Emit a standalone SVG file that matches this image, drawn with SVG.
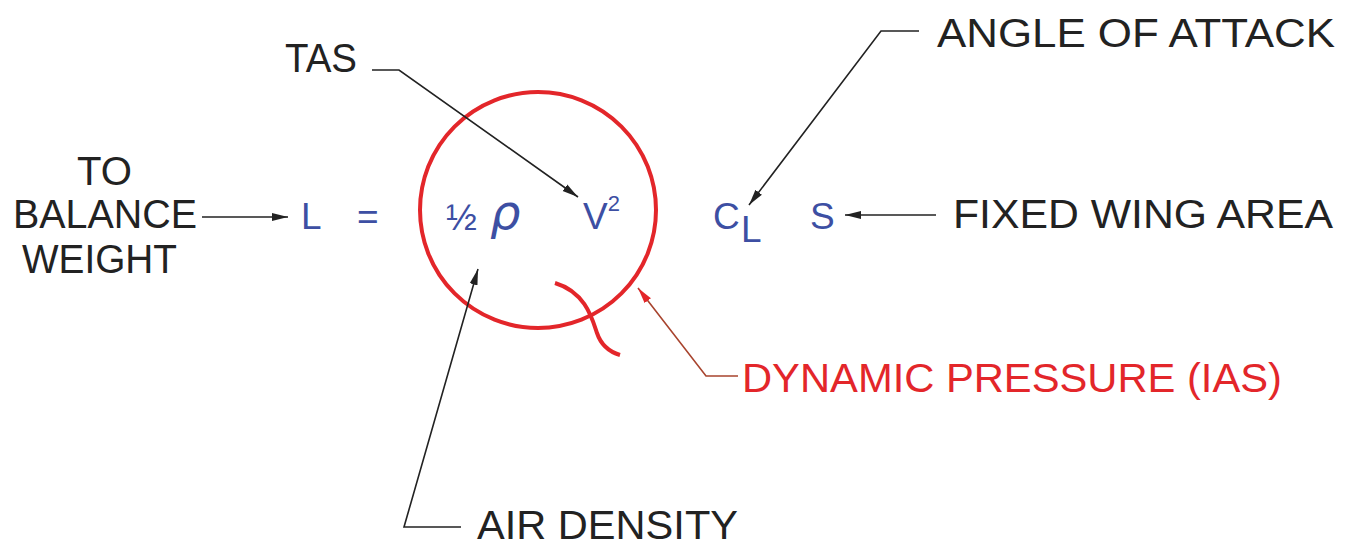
<svg xmlns="http://www.w3.org/2000/svg" width="1354" height="548" viewBox="0 0 1354 548">
<style>
.lbl{font-family:"Liberation Sans",Arial,sans-serif;font-size:40px;fill:#222;}
.red{font-family:"Liberation Sans",Arial,sans-serif;font-size:40px;fill:#e3262a;}
.eq{font-family:"Liberation Sans",Arial,sans-serif;font-size:37px;fill:#3d4fa3;}
.ld{fill:none;stroke:#222;stroke-width:1.6;}
.ldr{fill:none;stroke:#a8442e;stroke-width:1.6;}
</style>
<defs>
<marker id="ah" markerUnits="userSpaceOnUse" markerWidth="18" markerHeight="10" refX="16" refY="5" orient="auto">
<path d="M0,1 L16,5 L0,9 Z" fill="#222"/>
</marker>
<marker id="ahr" markerUnits="userSpaceOnUse" markerWidth="18" markerHeight="10" refX="16" refY="5" orient="auto">
<path d="M0,1 L16,5 L0,9 Z" fill="#e3262a"/>
</marker>
</defs>
<rect width="1354" height="548" fill="#fff"/>
<g id="dynamic-circle">
<circle cx="538" cy="210" r="118" fill="none" stroke="#e3262a" stroke-width="4"/>
<path d="M555,283 C585,292 592,318 597,333 C601,345 610,352 620,355" fill="none" stroke="#e3262a" stroke-width="4"/>
</g>
<g id="connectors">
<line class="ld" x1="202" y1="217" x2="288" y2="217" marker-end="url(#ah)"/>
<polyline class="ld" points="372,70 399,70 578,197" marker-end="url(#ah)"/>
<polyline class="ld" points="919,31 881,31 749,205" marker-end="url(#ah)"/>
<line class="ld" x1="936" y1="215" x2="845" y2="215" marker-end="url(#ah)"/>
<polyline class="ld" points="461,527 404,527 478,269" marker-end="url(#ah)"/>
<polyline class="ldr" points="738,376 706,376 638,288" marker-end="url(#ahr)"/>
</g>
<g id="to-balance-weight">
<text class="lbl" x="77" y="185" textLength="55" lengthAdjust="spacingAndGlyphs">TO</text>
<text class="lbl" x="13" y="228" textLength="184" lengthAdjust="spacingAndGlyphs">BALANCE</text>
<text class="lbl" x="22" y="273" textLength="155" lengthAdjust="spacingAndGlyphs">WEIGHT</text>
</g>
<g id="formula">
<text class="eq" x="301" y="229">L</text>
<text class="eq" x="357" y="229">=</text>
<text class="eq" x="446" y="230" font-size="52">½</text>
<text x="490" y="229" style="font-family:'DejaVu Sans',sans-serif;font-style:italic;font-size:48px;fill:#3d4fa3;">ρ</text>
<text class="eq" x="583" y="229">V<tspan font-size="22" dy="-18">2</tspan></text>
<text class="eq" x="713" y="229">C</text>
<text class="eq" x="741" y="242" font-size="30">L</text>
<text class="eq" x="810" y="229" font-size="38">S</text>
</g>
<g id="tas">
<text class="lbl" x="285" y="72" textLength="72" lengthAdjust="spacingAndGlyphs">TAS</text>
</g>
<g id="angle-of-attack">
<text class="lbl" x="937" y="47" textLength="398" lengthAdjust="spacingAndGlyphs">ANGLE OF ATTACK</text>
</g>
<g id="fixed-wing-area">
<text class="lbl" x="953" y="228" textLength="380" lengthAdjust="spacingAndGlyphs">FIXED WING AREA</text>
</g>
<g id="dynamic-pressure">
<text class="red" x="742" y="392" textLength="540" lengthAdjust="spacingAndGlyphs">DYNAMIC PRESSURE (IAS)</text>
</g>
<g id="air-density">
<text class="lbl" x="477" y="539" font-size="38" textLength="261" lengthAdjust="spacingAndGlyphs">AIR DENSITY</text>
</g>
</svg>
